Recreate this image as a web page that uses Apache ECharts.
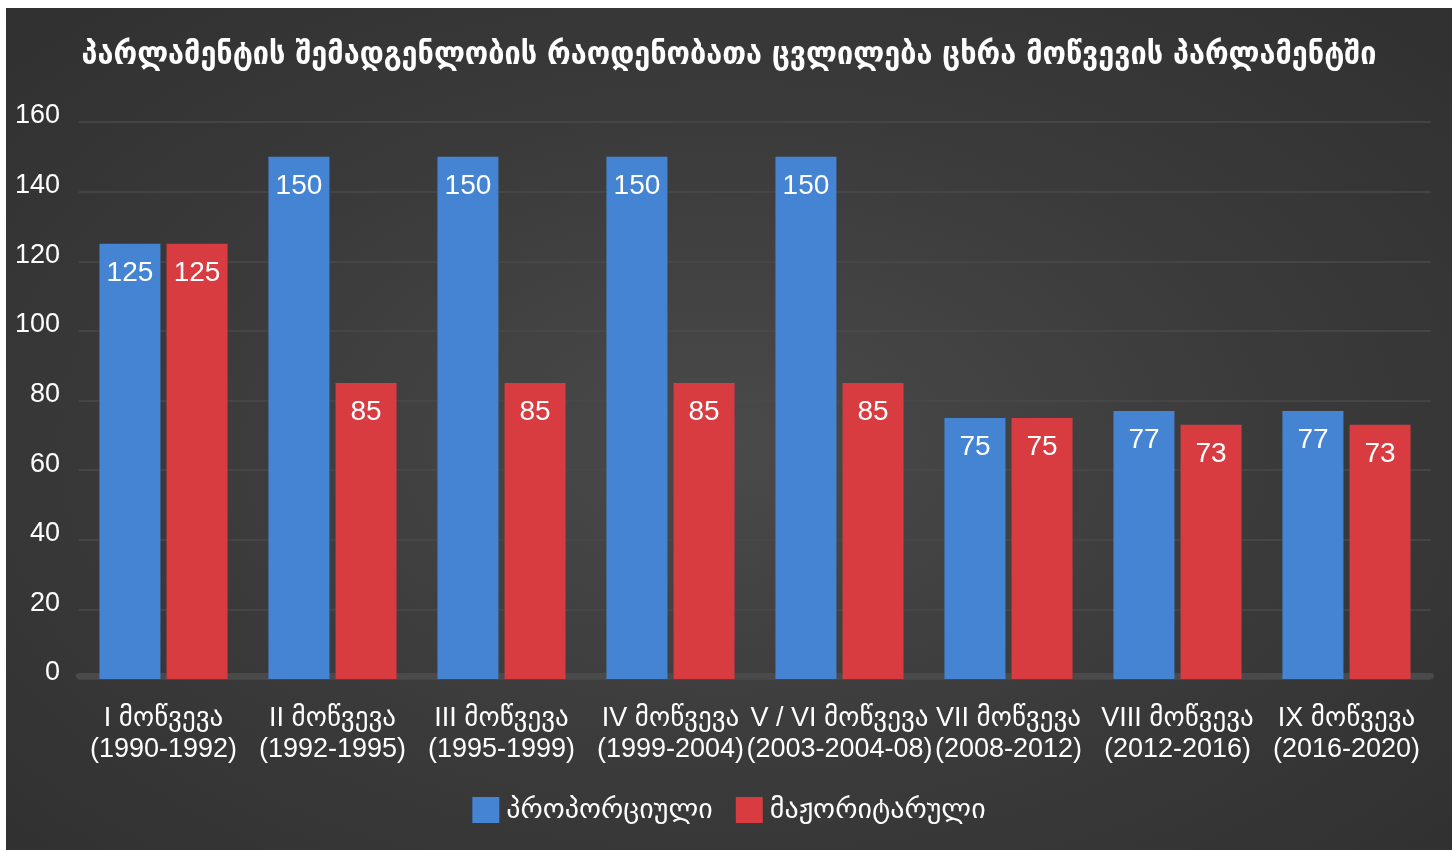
<!DOCTYPE html>
<html>
<head>
<meta charset="utf-8">
<script src="https://cdn.jsdelivr.net/npm/echarts@6/dist/echarts.min.js"></script>
<style>
  html, body { margin: 0; padding: 0; background: #fff; }
  #chart {
    position: absolute; left: 6px; top: 8px;
    width: 1446px; height: 842px;
    background: radial-gradient(ellipse farthest-corner at 50% 52%, #4a4a4a 0%, #3a3a3a 55%, #303030 100%);
  }
</style>
</head>
<body>
<div id="chart"></div>
<script>
// categories (parliament convocations)
const categories = [
  'I მოწვევა\n(1990-1992)',
  'II მოწვევა\n(1992-1995)',
  'III მოწვევა\n(1995-1999)',
  'IV მოწვევა\n(1999-2004)',
  'V / VI მოწვევა\n(2003-2004-08)',
  'VII მოწვევა\n(2008-2012)',
  'VIII მოწვევა\n(2012-2016)',
  'IX მოწვევა\n(2016-2020)'
];
const proportional = [125, 150, 150, 150, 150, 75, 77, 77];
const majoritarian = [125, 85, 85, 85, 85, 75, 73, 73];
const seriesNames = ['პროპორციული', 'მაჟორიტარული'];

const font = '"Liberation Sans", Arial, "DejaVu Sans", sans-serif';

const myChart = echarts.init(document.getElementById('chart'));

const barLabel = {
  show: true,
  position: 'insideTop',
  distance: 15,
  color: '#fff',
  fontSize: 28,
  fontFamily: font
};

const option = {
  backgroundColor: 'transparent',
  color: ['#4484d3', '#d83c40'],
  title: {
    text: 'პარლამენტის შემადგენლობის რაოდენობათა ცვლილება ცხრა მოწვევის პარლამენტში',
    left: 'center',
    top: 27,
    textStyle: {
      color: '#fff',
      fontSize: 32,
      fontWeight: 'bold',
      fontFamily: '"DejaVu Sans Condensed", "DejaVu Sans", sans-serif'
    }
  },
  legend: {
    data: seriesNames,
    bottom: 21,
    left: 'center',
    itemWidth: 27,
    itemHeight: 26,
    itemGap: 23,
    icon: 'rect',
    textStyle: { color: '#fff', fontSize: 28, fontFamily: font, padding: [0, 0, 0, 2] }
  },
  grid: {
    left: 73,
    right: 21,
    top: 114,
    bottom: 171
  },
  xAxis: {
    type: 'category',
    data: categories,
    offset: -3,
    axisLine: { lineStyle: { color: '#4a4a4a', width: 6 } },
    axisTick: { show: false },
    axisLabel: {
      color: '#fff',
      fontSize: 27,
      lineHeight: 31,
      margin: 27,
      interval: 0,
      fontFamily: font
    }
  },
  yAxis: {
    type: 'value',
    min: 0,
    max: 160,
    interval: 20,
    axisLine: { show: false },
    axisTick: { show: false },
    splitLine: { lineStyle: { color: '#4a4a4a', width: 1.5 } },
    axisLabel: {
      color: '#fff',
      fontSize: 27,
      margin: 19,
      verticalAlign: 'bottom',
      lineHeight: 12,
      fontFamily: font
    }
  },
  series: [
    {
      name: seriesNames[0],
      type: 'bar',
      barWidth: 61,
      barGap: '10%',
      label: barLabel,
      data: proportional
    },
    {
      name: seriesNames[1],
      type: 'bar',
      barWidth: 61,
      barGap: '10%',
      label: barLabel,
      data: majoritarian
    }
  ]
};

myChart.setOption(option);
</script>
</body>
</html>
